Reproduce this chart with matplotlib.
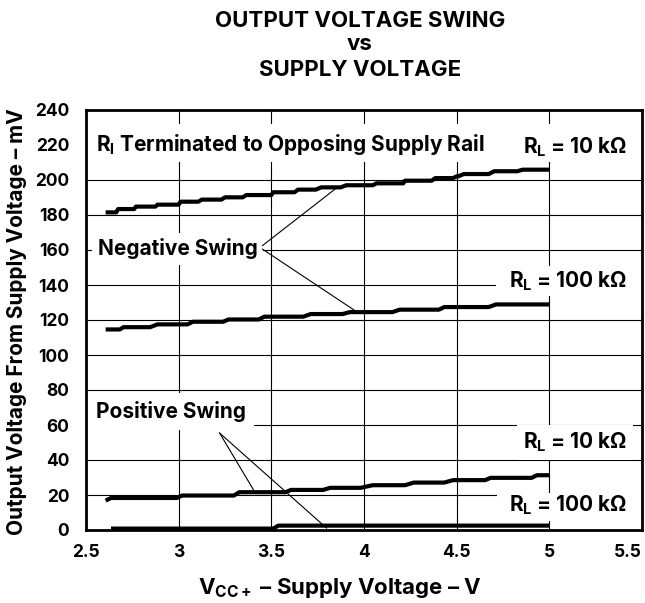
import matplotlib
matplotlib.use("Agg")
import matplotlib.pyplot as plt

FONT = ['Inter', 'Liberation Sans', 'DejaVu Sans']
plt.rcParams['font.family'] = FONT
plt.rcParams['font.weight'] = 'bold'
plt.rcParams['mathtext.fontset'] = 'custom'
plt.rcParams['mathtext.rm'] = 'Inter:bold'
plt.rcParams['mathtext.it'] = 'Inter:bold'
plt.rcParams['mathtext.bf'] = 'Inter:bold'

# ---- data (plateaus of stepped curves: start V, end V, level mV) ----
neg10k_x0 = [2.606, 2.673, 2.769, 2.885, 3.010, 3.125, 3.250, 3.365, 3.510, 3.644, 3.769, 3.904, 4.067, 4.221, 4.385, 4.500, 4.538, 4.702, 4.856]
neg10k_x1 = [2.663, 2.760, 2.875, 3.000, 3.106, 3.231, 3.346, 3.500, 3.625, 3.740, 3.875, 4.048, 4.212, 4.365, 4.481, 4.510, 4.673, 4.827, 5.000]
neg10k_y = [181.5, 183.4, 184.8, 185.9, 187.6, 188.8, 190.1, 191.4, 193.0, 194.5, 195.8, 197.0, 198.1, 199.6, 201.1, 202.1, 203.4, 205.0, 205.9]

neg100k_x0 = [2.606, 2.702, 2.885, 3.077, 3.269, 3.462, 3.712, 3.923, 4.192, 4.433, 4.712]
neg100k_x1 = [2.683, 2.846, 3.048, 3.240, 3.433, 3.673, 3.885, 4.154, 4.404, 4.673, 5.000]
neg100k_y = [114.6, 115.9, 117.5, 119.0, 120.3, 121.9, 123.4, 124.5, 125.9, 127.4, 128.9]

pos10k_x0 = [2.606, 2.635, 3.019, 3.327, 3.606, 3.817, 4.048, 4.269, 4.481, 4.683, 4.933]
pos10k_x1 = [2.606, 2.990, 3.298, 3.577, 3.779, 3.981, 4.221, 4.433, 4.654, 4.904, 5.000]
pos10k_y = [16.8, 18.3, 19.7, 21.6, 22.9, 24.1, 25.6, 27.1, 28.5, 29.8, 31.3]

pos100k_x0 = [2.635, 3.538]
pos100k_x1 = [3.510, 5.000]
pos100k_y = [0.8, 2.5]

x_ticks = [2.5, 3, 3.5, 4, 4.5, 5, 5.5]
x_tick_labels = ['2.5', '3', '3.5', '4', '4.5', '5', '5.5']
y_ticks = list(range(0, 241, 20))

XMIN, XMAX = 2.5, 5.5

fig = plt.figure(figsize=(6.45, 6.03), dpi=100)
W, H = 645, 603
ax = fig.add_axes([86 / W, (H - 530) / H, (642 - 86) / W, 420 / H])
ax.set_xlim(XMIN, XMAX)
ax.set_ylim(0, 240)
ax.set_xticks(x_ticks)
ax.set_xticklabels(x_tick_labels)
ax.set_yticks(y_ticks)
ax.tick_params(axis='both', length=0, labelsize=12.5)
ax.tick_params(axis='y', pad=12)
ax.tick_params(axis='x', pad=10)
for lab in ax.get_xticklabels() + ax.get_yticklabels():
    lab.set_fontweight('bold')
ax.get_xticklabels()[-1].set_horizontalalignment('right')
ax.grid(True, color='black', linewidth=0.8, zorder=0)
ax.set_axisbelow(True)
for s in ax.spines.values():
    s.set_linewidth(2.0)


def stair(x0, x1, y):
    xs, ys = [], []
    for a, b, v in zip(x0, x1, y):
        xs += [a, b]
        ys += [v, v]
    return xs, ys


for x0, x1, yv in [(neg10k_x0, neg10k_x1, neg10k_y), (neg100k_x0, neg100k_x1, neg100k_y),
                   (pos10k_x0, pos10k_x1, pos10k_y), (pos100k_x0, pos100k_x1, pos100k_y)]:
    xs, ys = stair(x0, x1, yv)
    ax.plot(xs, ys, color='black', linewidth=3.0, solid_capstyle='butt', zorder=5, clip_on=False)


# white label backgrounds that interrupt the grid
def mask(y0, y1, x0=XMIN):
    ax.axhspan(y0, y1, xmin=(x0 - XMIN) / (XMAX - XMIN), xmax=1, color='white', lw=0, zorder=2)


mask(210, 232)            # top label row
mask(134, 151, 4.71)      # negative R_L = 100 k
mask(5.3, 21, 4.72)       # positive R_L = 100 k

fs = 15
def wbox(p):
    return dict(facecolor='white', edgecolor='none', pad=p)

ax.text(2.555, 220, 'R$_\\mathregular{l}$ Terminated to Opposing Supply Rail', fontsize=fs,
        fontweight='bold', ha='left', va='center', zorder=3)
ax.text(5.42, 219, 'R$_\\mathregular{L}$ = 10 k\u03a9', fontsize=fs, fontweight='bold',
        ha='right', va='center', zorder=3)
ax.text(2.565, 160.6, 'Negative Swing', fontsize=fs, fontweight='bold', ha='left',
        va='center', bbox=wbox(4), zorder=3)
ax.text(5.42, 142, 'R$_\\mathregular{L}$ = 100 k\u03a9', fontsize=fs, fontweight='bold',
        ha='right', va='center', zorder=3)
ax.text(2.555, 67.8, 'Positive Swing', fontsize=fs, fontweight='bold', ha='left',
        va='center', bbox=wbox(6), zorder=3)
ax.text(5.42, 50, 'R$_\\mathregular{L}$ = 10 k\u03a9', fontsize=fs, fontweight='bold',
        ha='right', va='center', bbox=wbox(4), zorder=3)
ax.text(5.42, 14, 'R$_\\mathregular{L}$ = 100 k\u03a9', fontsize=fs, fontweight='bold',
        ha='right', va='center', zorder=3)

# leader lines
ax.plot([3.452, 3.856], [162.5, 195.8], color='black', linewidth=0.8, zorder=4)
ax.plot([3.452, 3.952], [160.5, 125.3], color='black', linewidth=0.8, zorder=4)
ax.plot([3.221, 3.404], [55.4, 22.9], color='black', linewidth=0.8, zorder=4)
ax.plot([3.221, 3.798], [55.4, 1.1], color='black', linewidth=0.8, zorder=4)

tx = 360 / W
fig.text(tx, 1 - 21 / H, 'OUTPUT VOLTAGE SWING', ha='center', va='center',
         fontsize=16, fontweight='bold')
fig.text(tx, 1 - 44.5 / H, 'vs', ha='center', va='center',
         fontsize=16, fontweight='bold')
fig.text(tx, 1 - 70 / H, 'SUPPLY VOLTAGE', ha='center', va='center',
         fontsize=16, fontweight='bold')

ax.set_ylabel('Output Voltage From Supply Voltage \u2013 mV', fontsize=15, fontweight='bold')
ax.yaxis.set_label_coords(-(86 - 27) / 556, (530 - 322) / 420)
ax.set_xlabel('V$_\\mathregular{CC+}$ \u2013 Supply Voltage \u2013 V', fontsize=16,
              fontweight='bold')
ax.xaxis.set_label_coords((340 - 86) / 556, -(576 - 530) / 420)

fig.savefig('out.png', dpi=100)
